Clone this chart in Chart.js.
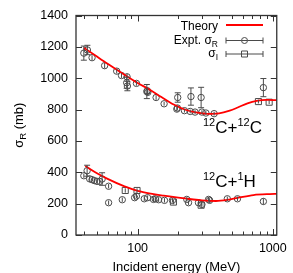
<!DOCTYPE html>
<html>
<head>
<meta charset="utf-8">
<script src="https://cdn.jsdelivr.net/npm/chart.js@4/dist/chart.umd.min.js"></script>
<style>
html,body{margin:0;padding:0;background:#fff;}
#wrap{width:293px;height:273px;position:relative;}
</style>
</head>
<body>
<div id="wrap"><canvas id="c" width="293" height="273"></canvas></div>
<script>
// ---- data ----
const xTickValues = [40,50,60,70,80,90,100,200,300,400,500,600,700,800,900,1000];
const xTickLabels = [100,1000];
const yTickValues = [0,200,400,600,800,1000,1200,1400];

// 12C+12C theory
const ccTheoryE = [40,50,60,80,100,124,150,185,220,270,330,400,480,550,650,760,900,1070];
const ccTheoryS = [1195,1138,1092,1022,970,925,880,832,802,782,773,776,793,813,840,856,862,860];
// 12C+1H theory
const chTheoryE = [41,50,60,80,100,125,156,200,250,300,380,460,570,720,950,1070];
const chTheoryS = [440,394,358,310,282,264,251,238,228,221,217,224,240,255,261,262];

// 12C+12C sigma_R
const ccRE   = [40,42.5,46,57,70,76,83.5,83,84,98,117,118,119,137,157,195,197,222,245,266,299,320,368,198,248,295,852];
const ccRS   = [1160,1180,1131,1080,1045,1017,1009,971,950,967,915,920,910,877,837,803,810,793,788,784,784,778,774,877,883,877,940];
const ccRErr = [45,30,15,18,15,15,18,35,30,15,45,20,20,15,12,15,12,12,12,12,12,12,12,30,55,65,58];
// 12C+12C sigma_I
const ccIE   = [783,940];
const ccIS   = [851,847];
const ccIErr = [12,12];

// 12C+1H sigma_R
const chRE   = [40,42.3,44.2,46,47.9,50.1,52.4,54.6,61,61,77,95,98,112,118.5,131,135,143,158,181,231,238,282,299,335,341,461,548,852];
const chRS   = [378,410,358,353,347,342,342,357,311,206,225,238,248,231,238,227,231,225,221,221,227,206,206,195,227,221,231,231,214];
const chRErr = [14,35,12,12,12,12,12,40,14,14,14,14,14,14,14,14,14,14,14,14,14,14,14,14,14,14,14,14,20];
// 12C+1H sigma_I
const chIE   = [81,99,184,295];
const chIS   = [284,284,210,190];
const chIErr = [14,14,14,14];

// ---- build ----
const pts = (e, s) => e.map((v, i) => ({x: v, y: s[i]}));
const FONT = "'Liberation Sans', Arial, Helvetica, sans-serif";
const PCOL = '#4a4a4a';

function pointSet(e, s, err, style, r) {
  return {
    data: pts(e, s), err: err, showLine: false,
    pointStyle: style, pointRadius: r, pointHoverRadius: r,
    borderColor: PCOL, backgroundColor: 'rgba(0,0,0,0)', pointBorderWidth: 1
  };
}
function theorySet(e, s) {
  return {
    data: pts(e, s), showLine: true, borderColor: '#ff0000', borderWidth: 1.8,
    pointRadius: 0, cubicInterpolationMode: 'monotone', fill: false
  };
}

function drawRich(ctx, parts, x, y, align) {
  let w = 0;
  parts.forEach(p => { ctx.font = p.size + 'px ' + FONT; w += ctx.measureText(p.t).width; });
  let cx = align === 'right' ? x - w : (align === 'center' ? x - w / 2 : x);
  ctx.textAlign = 'left';
  ctx.textBaseline = 'alphabetic';
  parts.forEach(p => {
    ctx.font = p.size + 'px ' + FONT;
    ctx.fillText(p.t, cx, y + (p.dy || 0));
    cx += ctx.measureText(p.t).width;
  });
}

const deco = {
  id: 'deco',
  afterDatasetsDraw(chart) {
    const ctx = chart.ctx, xs = chart.scales.x, ys = chart.scales.y;
    ctx.save();
    ctx.strokeStyle = PCOL; ctx.lineWidth = 1;
    chart.data.datasets.forEach(ds => {
      if (!ds.err) return;
      ds.data.forEach((p, i) => {
        const px = xs.getPixelForValue(p.x);
        const y1 = ys.getPixelForValue(p.y + ds.err[i]);
        const y2 = ys.getPixelForValue(p.y - ds.err[i]);
        ctx.beginPath(); ctx.moveTo(px, y1); ctx.lineTo(px, y2); ctx.stroke();
        if (y2 - y1 > 8) {
          ctx.beginPath();
          ctx.moveTo(px - 3, y1); ctx.lineTo(px + 3, y1);
          ctx.moveTo(px - 3, y2); ctx.lineTo(px + 3, y2);
          ctx.stroke();
        }
      });
    });
    ctx.restore();
  },
  afterDraw(chart) {
    const ctx = chart.ctx, xs = chart.scales.x, ys = chart.scales.y;
    const {left, right, top, bottom} = chart.chartArea;
    ctx.save();
    ctx.strokeStyle = '#333'; ctx.lineWidth = 1.3;
    ctx.strokeRect(left, top, right - left, bottom - top);
    ctx.lineWidth = 1;
    ctx.beginPath();
    xTickValues.forEach(v => {
      const px = Math.round(xs.getPixelForValue(v)) + 0.5;
      const len = xTickLabels.includes(v) ? 6 : 3.5;
      ctx.moveTo(px, bottom); ctx.lineTo(px, bottom - len);
      ctx.moveTo(px, top); ctx.lineTo(px, top + len);
    });
    yTickValues.forEach(v => {
      const py = Math.round(ys.getPixelForValue(v)) + 0.5;
      ctx.moveTo(left, py); ctx.lineTo(left + 6, py);
      ctx.moveTo(right, py); ctx.lineTo(right - 6, py);
    });
    ctx.stroke();

    ctx.fillStyle = '#000';
    // x title
    drawRich(ctx, [{t: 'Incident energy (MeV)', size: 13}], (left + right) / 2, 271, 'center');
    // y title
    ctx.save();
    ctx.translate(23, (top + bottom) / 2);
    ctx.rotate(-Math.PI / 2);
    drawRich(ctx, [{t: 'σ', size: 13}, {t: 'R', size: 9.5, dy: 3}, {t: ' (mb)', size: 13}], 0, 0, 'center');
    ctx.restore();

    // legend
    const tx = 218, sx1 = 226, sx2 = 263, sxm = 244.5;
    drawRich(ctx, [{t: 'Theory', size: 12}], tx, 29.5, 'right');
    ctx.strokeStyle = '#ff0000'; ctx.lineWidth = 1.8;
    ctx.beginPath(); ctx.moveTo(sx1, 25); ctx.lineTo(sx2, 25); ctx.stroke();

    drawRich(ctx, [{t: 'Expt. σ', size: 12}, {t: 'R', size: 8.5, dy: 3}], tx, 43.5, 'right');
    drawRich(ctx, [{t: 'σ', size: 12}, {t: 'I', size: 8.5, dy: 3}], tx, 57, 'right');
    ctx.strokeStyle = PCOL; ctx.lineWidth = 1;
    [[40.5, 'c'], [54, 's']].forEach(([yy, k]) => {
      ctx.beginPath();
      ctx.moveTo(sx1, yy); ctx.lineTo(sx2, yy);
      ctx.moveTo(sx1, yy - 3); ctx.lineTo(sx1, yy + 3);
      ctx.moveTo(sx2, yy - 3); ctx.lineTo(sx2, yy + 3);
      ctx.stroke();
      ctx.fillStyle = '#fff';
      ctx.beginPath();
      if (k === 'c') ctx.arc(sxm, yy, 3, 0, Math.PI * 2); else ctx.rect(sxm - 3, yy - 3, 6, 6);
      ctx.fill(); ctx.stroke();
      ctx.beginPath(); ctx.moveTo(sxm - 3, yy); ctx.lineTo(sxm + 3, yy); ctx.stroke();
    });

    // annotations
    ctx.fillStyle = '#000';
    drawRich(ctx, [{t: '12', size: 11, dy: -7}, {t: 'C+', size: 17}, {t: '12', size: 11, dy: -7}, {t: 'C', size: 17}], 203, 133, 'left');
    drawRich(ctx, [{t: '12', size: 11, dy: -7}, {t: 'C+', size: 17}, {t: '1', size: 11, dy: -7}, {t: 'H', size: 17}], 203, 187, 'left');
    ctx.restore();
  }
};

new Chart(document.getElementById('c'), {
  type: 'scatter',
  data: {
    datasets: [
      theorySet(ccTheoryE, ccTheoryS),
      theorySet(chTheoryE, chTheoryS),
      pointSet(ccRE, ccRS, ccRErr, 'circle', 3.2),
      pointSet(ccIE, ccIS, ccIErr, 'rect', 4.3),
      pointSet(chRE, chRS, chRErr, 'circle', 3.2),
      pointSet(chIE, chIS, chIErr, 'rect', 4.3)
    ]
  },
  options: {
    responsive: false, animation: false, devicePixelRatio: 1,
    layout: {padding: {left: 0, right: 16, top: 13, bottom: 0}},
    plugins: {legend: {display: false}, tooltip: {enabled: false}},
    scales: {
      x: {
        type: 'logarithmic', min: 35, max: 1070,
        grid: {display: false, drawTicks: false},
        border: {display: false},
        afterBuildTicks: s => { s.ticks = xTickValues.map(v => ({value: v})); },
        afterFit: s => { s.height = 38; },
        ticks: {
          autoSkip: false, maxRotation: 0, minRotation: 0, padding: 6, color: '#000',
          font: {size: 12.5, family: FONT},
          callback: v => xTickLabels.includes(v) ? String(v) : ''
        }
      },
      y: {
        min: 0, max: 1400,
        grid: {display: false, drawTicks: false},
        border: {display: false},
        afterBuildTicks: s => { s.ticks = yTickValues.map(v => ({value: v})); },
        afterFit: s => { s.width = 76; },
        ticks: {padding: 8, color: '#000', font: {size: 12.5, family: FONT}, callback: v => String(v)}
      }
    }
  },
  plugins: [deco]
});
</script>
</body>
</html>
